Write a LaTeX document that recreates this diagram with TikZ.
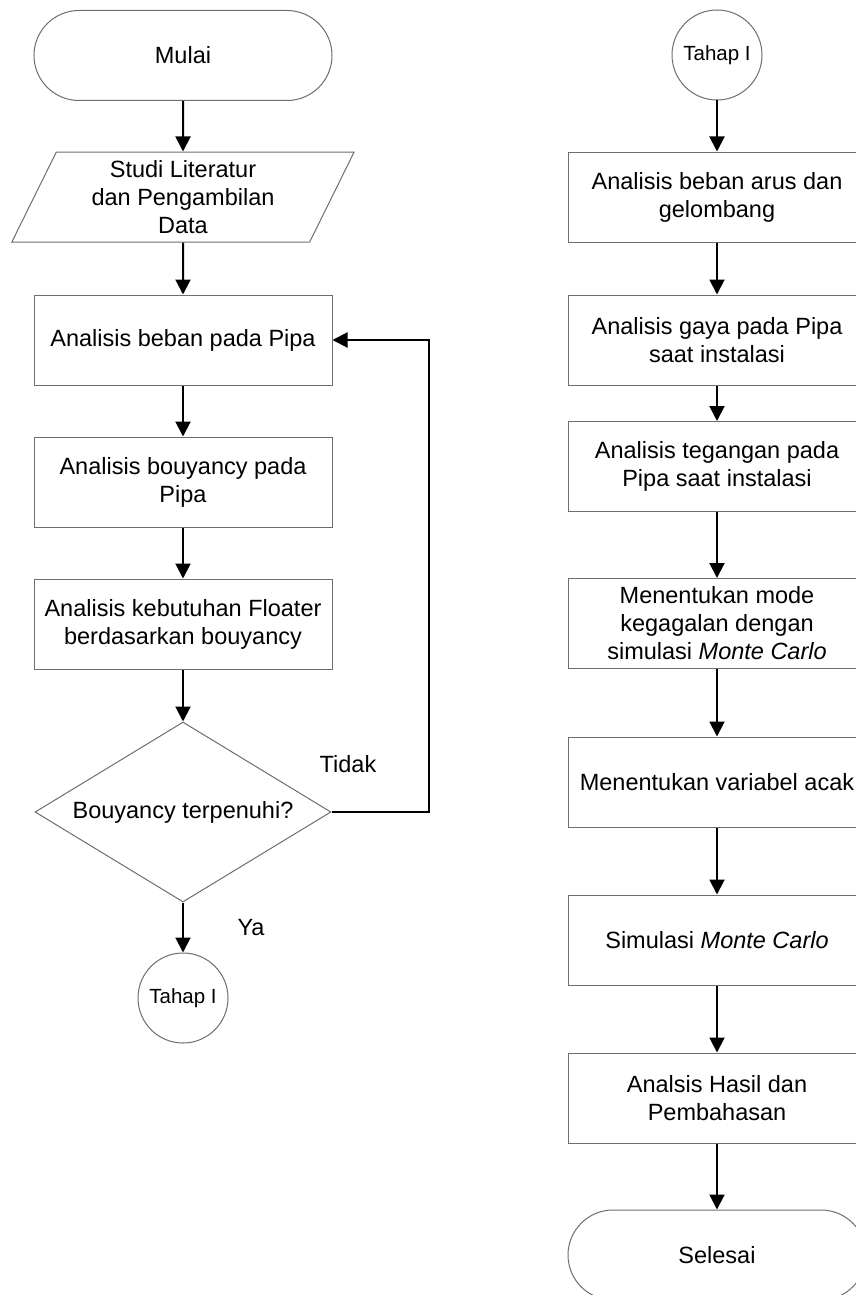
\documentclass[tikz,border=0pt]{standalone}
\usepackage{fontspec}
\setmainfont{Liberation Sans}
\usetikzlibrary{positioning,shapes.geometric,arrows.meta}

\begin{document}
\begin{tikzpicture}[
  x=1pt, y=1pt,
  node distance=142pt,
  every node/.style={font=\fontsize{23.5}{28}\selectfont},
  outline/.style={draw={rgb,255:red,110;green,110;blue,110}, line width=1pt, fill=white, align=center, inner sep=2pt},
  terminal/.style={outline, rectangle, rounded corners=45pt, minimum width=298pt, minimum height=90pt},
  process/.style={outline, rectangle, minimum width=298pt, minimum height=90pt},
  io/.style={outline, trapezium, trapezium left angle=67, trapezium right angle=113, trapezium stretches=true, minimum width=343pt, minimum height=90pt},
  decision/.style={outline, diamond, aspect=1.64, minimum width=296pt, minimum height=180pt},
  connector/.style={outline, circle, minimum size=90pt, inner sep=0pt, font=\fontsize{20.5}{24}\selectfont},
  arrow/.style={-{Triangle[length=15pt,width=15pt]}, line width=2pt}
]
  \useasboundingbox (0,0) rectangle (856,-1295);
  \clip (0,0) rectangle (856,-1295);

  % Left column
  \node[terminal] (mulai) at (183,-55.5) {Mulai};
  \node[io, below of=mulai, node distance=141.5pt] (studi) {Studi Literatur\\dan Pengambilan\\Data};
  \node[process, below of=studi, node distance=143pt] (beban) {Analisis beban pada Pipa};
  \node[process, below of=beban] (bouy) {Analisis bouyancy pada\\Pipa};
  \node[process, below of=bouy] (floater) {Analisis kebutuhan Floater\\berdasarkan bouyancy};
  \node[decision, below of=floater, node distance=188pt] (cek) {Bouyancy terpenuhi?};
  \node[connector, below of=cek, node distance=186pt] (tahapA) {Tahap I};

  % Right column
  \node[connector] (tahapB) at (717,-55) {Tahap I};
  \node[process, below of=tahapB] (arus) {Analisis beban arus dan\\gelombang};
  \node[process, below of=arus, node distance=143pt] (gaya) {Analisis gaya pada Pipa\\saat instalasi};
  \node[process, below of=gaya, node distance=126.5pt] (tegangan) {Analisis tegangan pada\\Pipa saat instalasi};
  \node[process, below of=tegangan, node distance=157pt] (mode) {Menentukan mode\\kegagalan dengan\\simulasi \textit{Monte Carlo}};
  \node[process, below of=mode, node distance=158.5pt] (acak) {Menentukan variabel acak};
  \node[process, below of=acak, node distance=158pt] (mc) {Simulasi \textit{Monte Carlo}};
  \node[process, below of=mc, node distance=158pt] (hasil) {Analsis Hasil dan\\Pembahasan};
  \node[terminal, below of=hasil, node distance=157pt] (selesai) {Selesai};

  % Draw arrows
  \draw[arrow] (mulai) -- (studi);
  \draw[arrow] (studi) -- (beban);
  \draw[arrow] (beban) -- (bouy);
  \draw[arrow] (bouy) -- (floater);
  \draw[arrow] (floater) -- (cek);
  \draw[arrow] (cek) -- (tahapA);
  \coordinate (balik) at ([xshift=97pt]cek.east);
  \draw[arrow] (cek.east) -- (balik) |- (beban.east);

  \draw[arrow] (tahapB) -- (arus);
  \draw[arrow] (arus) -- (gaya);
  \draw[arrow] (gaya) -- (tegangan);
  \draw[arrow] (tegangan) -- (mode);
  \draw[arrow] (mode) -- (acak);
  \draw[arrow] (acak) -- (mc);
  \draw[arrow] (mc) -- (hasil);
  \draw[arrow] (hasil) -- (selesai);

  % Add answer labels
  \node (tidak) at (348,-764) {Tidak};
  \node (ya) at (251,-928) {Ya};
\end{tikzpicture}
\end{document}
